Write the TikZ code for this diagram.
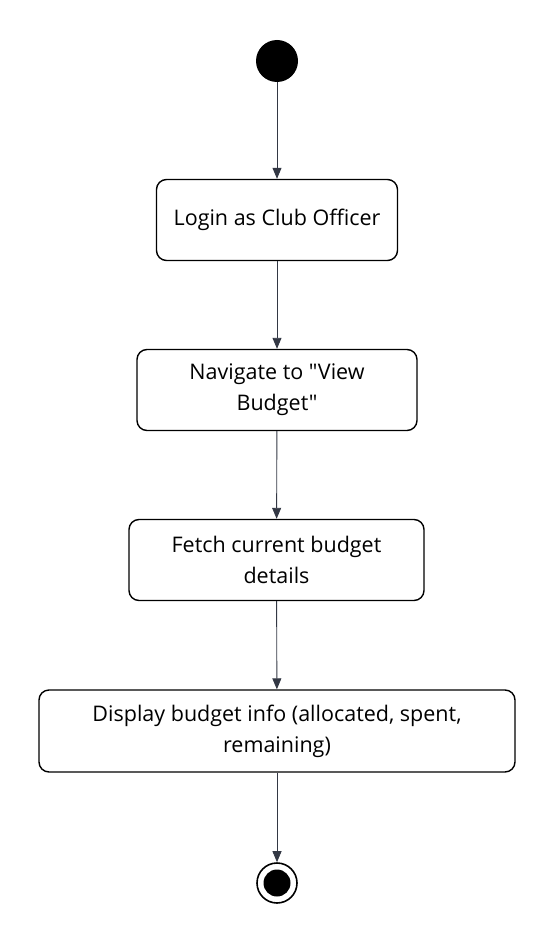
\documentclass[tikz,border=0pt]{standalone}
\usepackage{fontspec}
\newfontfamily\boxfont{Open Sans}
\usetikzlibrary{arrows.meta}
\definecolor{linkgray}{HTML}{333844}
\begin{document}
\begin{tikzpicture}[
        x=1pt, y=-1pt,
        every node/.style={font=\boxfont\fontsize{21.5}{31}\selectfont},
        action/.style={draw, line width=1.4pt, rounded corners=10pt, align=center, inner sep=0pt},
        start/.style={fill=black, circle, minimum size=42pt, inner sep=0pt},
        stop/.style={draw, line width=1.6pt, circle, minimum size=40pt, inner sep=0pt},
        flow/.style={draw=linkgray, line width=0.9pt, -{Triangle[length=11pt, width=9pt]}},
    ]
    \useasboundingbox (0,0) rectangle (555,944);
    \node[start](init) at (277,61){};
    \node[action, minimum width=241pt, minimum height=81pt](login) at (277,220){Login as Club Officer};
    \node[action, minimum width=280pt, minimum height=81pt](nav) at (277,390){Navigate to "View\\Budget"};
    \node[action, minimum width=295pt, minimum height=81pt](fetch) at (276.5,560){Fetch current budget\\details};
    \node[action, minimum width=476pt, minimum height=82pt](show) at (277,731){Display budget info (allocated, spent,\\remaining)};
    \node[stop](final) at (277,883){};
    \fill (final) circle (13.5pt);
    \draw[flow] (init) -- (login);
    \draw[flow] (login) -- (nav);
    \draw[flow] (nav) -- (fetch);
    \draw[flow] (fetch) -- (show);
    \draw[flow] (show) -- (final);
\end{tikzpicture}
\end{document}
